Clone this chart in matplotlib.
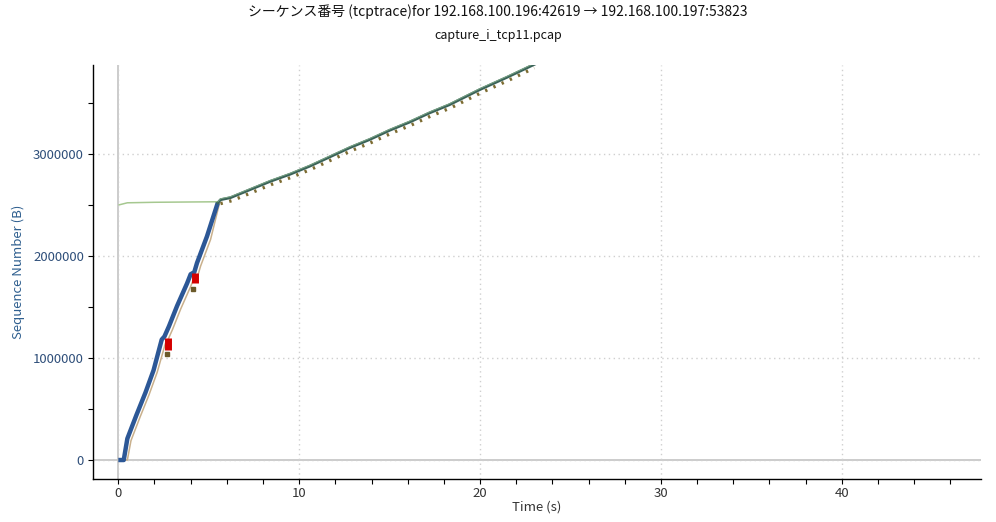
import matplotlib
matplotlib.use("Agg")
import matplotlib.pyplot as plt
from matplotlib.ticker import MultipleLocator, FuncFormatter

plt.rcParams['font.family'] = ['Noto Sans CJK JP', 'DejaVu Sans']

# --- data ---
# data segments, slow-start phase (s, bytes)
seg_t = [0.0, 0.3, 0.5, 1.0, 1.5, 1.95, 2.4, 2.55, 2.8, 3.25, 3.8, 4.0, 4.2, 4.35, 4.9, 5.5]
seg_y = [0, 0, 210000, 440000, 660000, 880000, 1180000, 1210000, 1310000, 1510000,
         1730000, 1820000, 1840000, 1930000, 2190000, 2520000]
# window-limited phase
flow_t = [5.5, 5.65, 6.2, 7.3, 8.4, 9.5, 10.6, 11.7, 12.8, 13.9, 15.0, 16.1, 17.2,
          18.3, 20.0, 21.5, 23.05]
flow_y = [2520000, 2550000, 2570000, 2650000, 2730000, 2800000, 2880000, 2970000,
          3060000, 3140000, 3230000, 3310000, 3400000, 3480000, 3630000, 3750000, 3880000]
# ack line
ack_t = [0.25, 0.5, 0.7, 1.2, 1.7, 2.15, 2.6, 2.75, 3.0, 3.45, 4.0, 4.2, 4.4,
         4.55, 5.1, 5.6]
ack_y = [0, 0, 190000, 420000, 640000, 860000, 1140000, 1180000, 1280000, 1480000,
         1700000, 1790000, 1810000, 1900000, 2160000, 2520000]
ack2_t = [5.65, 6.3, 7.4, 8.5, 9.6, 10.7, 11.8, 12.9, 14.0, 15.1, 16.2, 17.3, 18.4,
          20.1, 21.6, 23.0]
ack2_y = [2530000, 2560000, 2640000, 2720000, 2790000, 2870000, 2960000, 3050000,
          3130000, 3220000, 3300000, 3390000, 3470000, 3620000, 3740000, 3860000]
# receive window line
win_t = [0.05, 0.5, 2.0, 4.0, 5.5]
win_y = [2500000, 2520000, 2525000, 2528000, 2530000]
# SACK blocks
sack_t = [2.72, 4.22]
sack_lo = [1080000, 1730000]
sack_hi = [1200000, 1830000]
# duplicate acks
dup_t = [2.68, 4.12]
dup_y = [1040000, 1680000]

title1 = "シーケンス番号 (tcptrace)for 192.168.100.196:42619 → 192.168.100.197:53823"
title2 = "capture_i_tcp11.pcap"

fig = plt.figure(figsize=(9.96, 5.22), dpi=100)
ax = fig.add_axes([93/996, 1-479/522, (981-93)/996, (479-65)/522])

ax.set_xlim(-1.4, 47.7)
ax.set_ylim(-186000, 3870000)

ax.axvline(0, color='#c4c4c4', lw=1.2, zorder=1)
ax.axhline(0, color='#c4c4c4', lw=1.2, zorder=1)

ax.plot(win_t, win_y, color='#a6c890', lw=1.1, zorder=2)
ax.plot(ack_t, ack_y, color='#c9b08c', lw=1.1, zorder=2)
ax.plot(ack2_t, [v - 18000 for v in ack2_y], color='#7d6c32', lw=2.4,
        dashes=(0.7, 2.0), zorder=3)
ax.plot(seg_t, seg_y, color='#2c5796', lw=3.2, solid_capstyle='butt', zorder=4)
ax.plot(flow_t, flow_y, color='#3a6258', lw=2.0, zorder=4)
ax.plot(flow_t, [v + 10000 for v in flow_y], color='#7aa486', lw=0.7, zorder=5)
ax.vlines(sack_t, sack_lo, sack_hi, color='#d40000', lw=5, zorder=6)
ax.plot(dup_t, dup_y, 's', color='#6b5a2a', ms=3.5, zorder=6)

ax.xaxis.set_major_locator(MultipleLocator(10))
ax.xaxis.set_minor_locator(MultipleLocator(2))
ax.yaxis.set_major_locator(MultipleLocator(1000000))
ax.yaxis.set_minor_locator(MultipleLocator(500000))
ax.yaxis.set_major_formatter(FuncFormatter(lambda v, p: f"{int(round(v))}"))

ax.grid(True, which='major', color='#cfcfcf', linestyle=(0, (1, 2.5)), lw=1.0)
for s in ['top', 'right']:
    ax.spines[s].set_visible(False)
for s in ['left', 'bottom']:
    ax.spines[s].set_color('black')
    ax.spines[s].set_linewidth(1.0)

ax.tick_params(axis='both', which='both', direction='out', length=3.5, width=0.8,
               color='black')
ax.tick_params(axis='y', labelcolor='#2f4f7a', labelsize=9.5, pad=3)
ax.tick_params(axis='x', labelcolor='#333333', labelsize=9.5, pad=2)

ax.set_xlabel("Time (s)", fontsize=9.5, color='#333333', labelpad=1)
ax.set_ylabel("Sequence Number (B)", fontsize=9.5, color='#2f5f8f', labelpad=6)

fig.text(0.5, 1-12/522, title1, ha='center', va='center', fontsize=10, color='#111111')
fig.text(0.5, 1-36/522, title2, ha='center', va='center', fontsize=9, color='#111111')

fig.savefig("out.png", dpi=100)
